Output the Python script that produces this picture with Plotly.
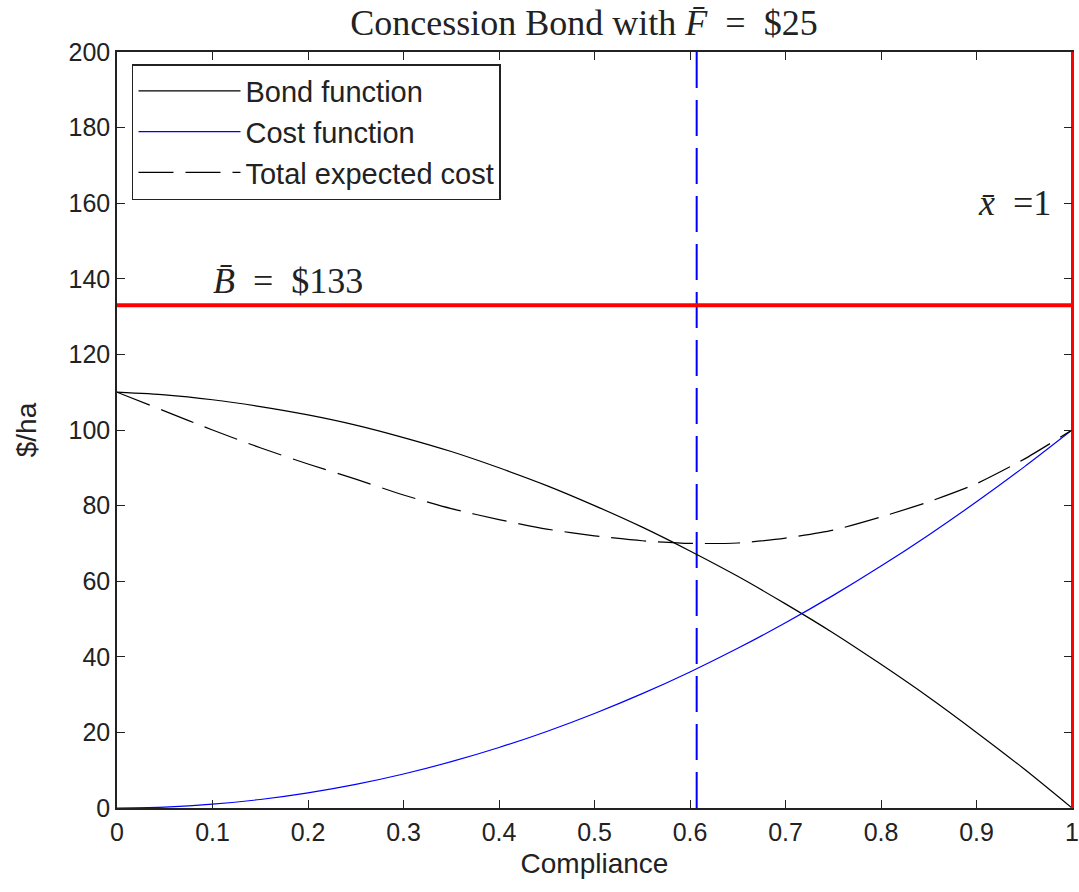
import plotly.graph_objects as go

# ---- data ----
compliance = [0.00, 0.05, 0.10, 0.15, 0.20, 0.25, 0.30, 0.35, 0.40, 0.45, 0.50,
              0.55, 0.60, 0.65, 0.70, 0.75, 0.80, 0.85, 0.90, 0.95, 1.00]
bond_function = [110, 109.3, 108, 106.2, 104, 101.3, 98, 94.3, 90, 85.3, 80,
                 74.3, 68, 61.3, 54, 46.3, 38, 29.3, 20, 10.3, 0]
cost_function = [0, 0.25, 1, 2.25, 4, 6.25, 9, 12.25, 16, 20.25, 25,
                 30.25, 36, 42.25, 49, 56.25, 64, 72.25, 81, 90.25, 100]
total_expected_cost = [110, 105, 100, 95.3, 91, 87, 82.8, 79.2, 76.3, 73.8, 72,
                       70.7, 70, 70.1, 71.4, 73.5, 77, 81, 85.8, 92.3, 100]
bond_level = 133          # B-bar
x_bar = 1.0               # x-bar
x_optimum = 0.607         # blue dashed vertical
y_range = [0, 200]
x_ticks = [0, 0.1, 0.2, 0.3, 0.4, 0.5, 0.6, 0.7, 0.8, 0.9, 1]
x_ticklabels = ["0", "0.1", "0.2", "0.3", "0.4", "0.5", "0.6", "0.7", "0.8", "0.9", "1"]
y_ticks = [0, 20, 40, 60, 80, 100, 120, 140, 160, 180, 200]

SANS = "Liberation Sans, Arial, sans-serif"
SERIF = "Liberation Serif, Times New Roman, serif"
EN = "\u2002"

fig = go.Figure()

# vertical blue dashed line at optimum
fig.add_trace(go.Scatter(x=[x_optimum, x_optimum], y=[y_range[1], y_range[0]],
                         mode="lines", line=dict(color="#0000ff", width=2, dash="36px,12px"),
                         showlegend=False, hoverinfo="skip"))

fig.add_trace(go.Scatter(x=compliance, y=bond_function, mode="lines", name="Bond function",
                         line=dict(color="black", width=1.2, shape="spline", smoothing=0.6)))
fig.add_trace(go.Scatter(x=compliance, y=cost_function, mode="lines", name="Cost function",
                         line=dict(color="#0000ff", width=1.2, shape="spline", smoothing=0.6)))
fig.add_trace(go.Scatter(x=compliance, y=total_expected_cost, mode="lines", name="Total expected cost",
                         line=dict(color="black", width=1.2, dash="35px,12px", shape="spline", smoothing=0.6)))

# horizontal red line B-bar
fig.add_trace(go.Scatter(x=[0, 1], y=[bond_level, bond_level], mode="lines",
                         line=dict(color="#ff0000", width=4), showlegend=False, hoverinfo="skip"))
# vertical red line x-bar
fig.add_trace(go.Scatter(x=[x_bar, x_bar], y=y_range, mode="lines",
                         line=dict(color="#ff0000", width=2), showlegend=False,
                         hoverinfo="skip", cliponaxis=False))

axis_common = dict(showgrid=False, zeroline=False, ticks="inside", ticklen=8, tickwidth=1.3,
                   tickcolor="#222", linecolor="#222", linewidth=1.5, showline=True,
                   automargin=False, tickfont=dict(family=SANS, size=25, color="#222"))

fig.update_layout(
    width=1079, height=892,
    margin=dict(l=117, r=7, t=52, b=84),
    paper_bgcolor="white", plot_bgcolor="white",
    title=dict(text="Concession Bond with <i>F̄</i>" + EN + "=" + EN + "$25", x=0.489, xref="paper",
               xanchor="center", y=0.975, yref="container", yanchor="middle",
               font=dict(family=SERIF, size=36, color="#222")),
    xaxis=dict(range=[0, 1], tickvals=x_ticks, ticktext=x_ticklabels, mirror="ticks",
               title=dict(text="Compliance", font=dict(family=SANS, size=28, color="#222"), standoff=9),
               ticklabelstandoff=1, ticklabeloverflow="allow", **axis_common),
    yaxis=dict(range=y_range, tickvals=y_ticks, mirror=False,
               title=dict(text="$/ha", font=dict(family=SANS, size=28, color="#222"), standoff=24),
               ticklabelstandoff=0, **axis_common),
    yaxis2=dict(range=y_range, tickvals=y_ticks, overlaying="y", side="right", showgrid=False,
                zeroline=False, ticks="inside", ticklen=8, tickwidth=1.3, tickcolor="#222",
                showline=True, linecolor="#ff0000", linewidth=2, showticklabels=False,
                automargin=False),
    legend=dict(x=0.0157, y=0.984, xanchor="left", yanchor="top", bgcolor="white",
                bordercolor="#222", borderwidth=1.5, itemwidth=102,
                font=dict(family=SANS, size=29, color="#222")),
    annotations=[
        dict(x=0.179, y=139.4, xref="x", yref="y", text="<i>B̄</i>" + EN + "=" + EN + "$133",
             showarrow=False, font=dict(family=SERIF, size=36, color="#222")),
        dict(x=0.94, y=160, xref="x", yref="y", text="<i>x̄</i>" + EN + "=1", showarrow=False,
             font=dict(family=SERIF, size=36, color="#222")),
    ],
)
# invisible trace to activate yaxis2 (right border + ticks)
fig.add_trace(go.Scatter(x=[0], y=[0], yaxis="y2", mode="markers", marker=dict(opacity=0),
                         showlegend=False, hoverinfo="skip"))

fig.write_html("out.html", config={"displayModeBar": False},
               post_script="document.body.style.margin='0';document.body.style.overflow='hidden';")
